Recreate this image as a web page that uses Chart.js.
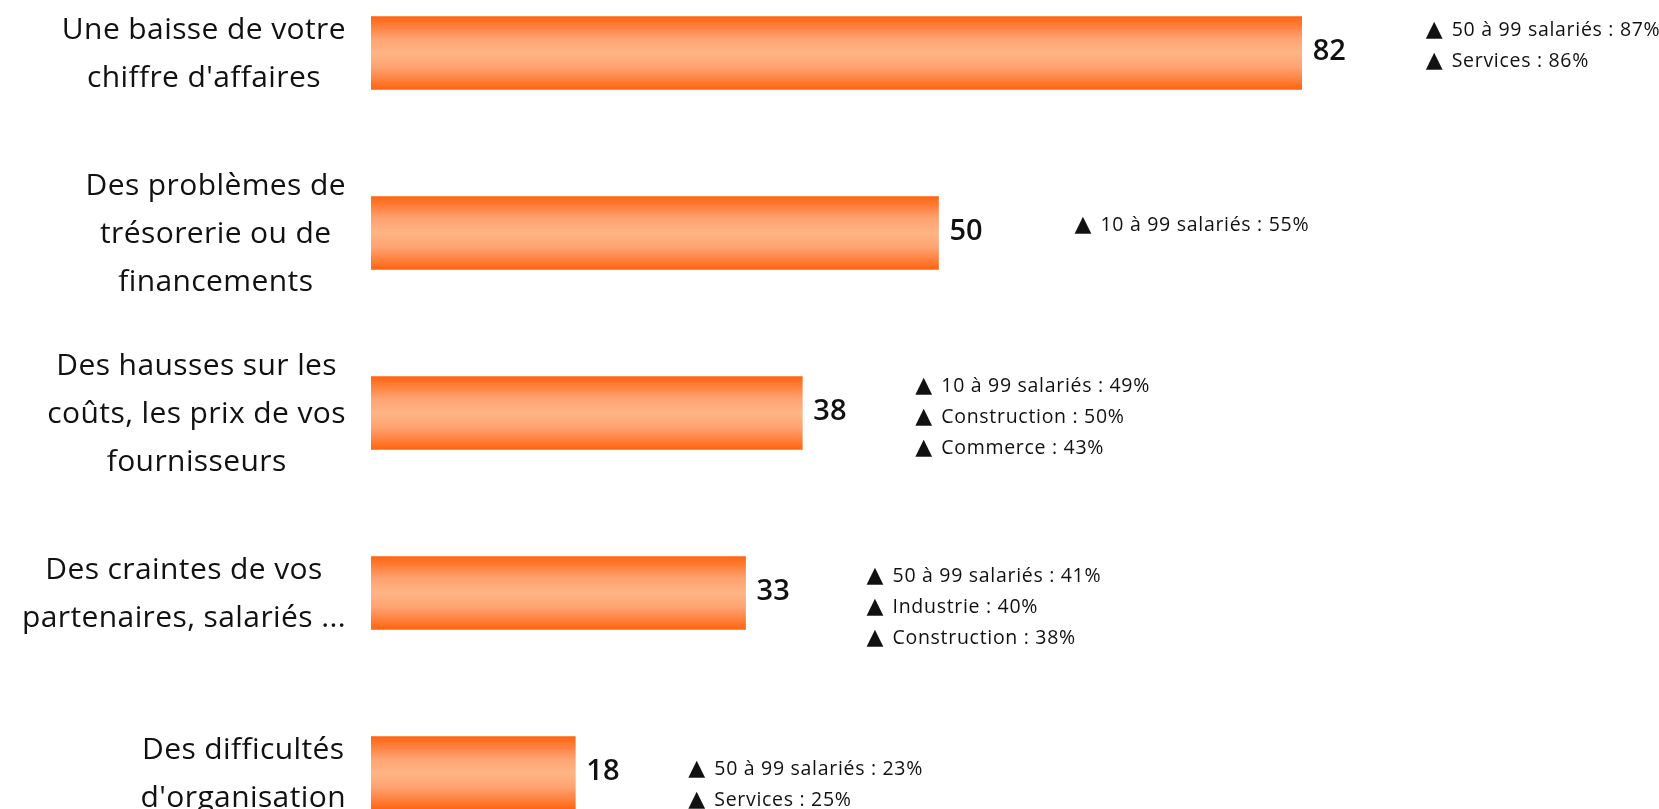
<!DOCTYPE html>
<html>
<head>
<meta charset="utf-8">
<script src="https://cdn.jsdelivr.net/npm/chart.js@4.4.1/dist/chart.umd.min.js"></script>
<style>
  html, body { margin: 0; padding: 0; background: #ffffff; overflow: hidden; width: 1659px; height: 809px; }
  #wrap { position: absolute; left: 0; top: -37px; width: 1659px; height: 900px; }
</style>
</head>
<body>
<div id="wrap"><canvas id="c"></canvas></div>
<script>
// ---- data ----
const categories = [
  ["Une baisse de votre", "chiffre d'affaires"],
  ["Des problèmes de", "trésorerie ou de", "financements"],
  ["Des hausses sur les", "coûts, les prix de vos", "fournisseurs"],
  ["Des craintes de vos", "partenaires, salariés ..."],
  ["Des difficultés", "d'organisation"]
];
const values = [82, 50, 38, 33, 18];
const highlights = [
  ["50 à 99 salariés : 87%", "Services : 86%"],
  ["10 à 99 salariés : 55%"],
  ["10 à 99 salariés : 49%", "Construction : 50%", "Commerce : 43%"],
  ["50 à 99 salariés : 41%", "Industrie : 40%", "Construction : 38%"],
  ["50 à 99 salariés : 23%", "Services : 25%"]
];

// ---- layout (not data) ----
const BAR_THICK = 73;
const noteDx = [124, 136, 113, 121, 113];   // gap from bar end to note block
const noteDy = [-23, -8, -27, -17, -4];     // first note line offset from bar centre
const NOTE_LINE = 31;
const LABEL_LINE = 48;

function barGradient(ctx, yc) {
  const g = ctx.createLinearGradient(0, yc - BAR_THICK / 2, 0, yc + BAR_THICK / 2);
  g.addColorStop(0, '#ff6410');
  g.addColorStop(0.3, '#ffa271');
  g.addColorStop(0.5, '#ffb585');
  g.addColorStop(0.7, '#ffa271');
  g.addColorStop(1, '#ff6410');
  return g;
}

const textPlugin = {
  id: 'texts',
  afterDatasetsDraw(chart) {
    const ctx = chart.ctx;
    const xs = chart.scales.x, ys = chart.scales.y;
    const area = chart.chartArea;
    ctx.save();
    ctx.fillStyle = '#111111';
    // category labels (left)
    ctx.font = '30px "Open Sans"';
    ctx.letterSpacing = '0.4px';
    ctx.textBaseline = 'middle';
    ctx.textAlign = 'center';
    categories.forEach((lines, i) => {
      const yc = ys.getPixelForValue(i);
      let maxW = 0;
      lines.forEach(l => { maxW = Math.max(maxW, ctx.measureText(l).width); });
      const cx = area.left - 25 - maxW / 2;
      lines.forEach((l, k) => {
        ctx.fillText(l, cx, yc + (k - (lines.length - 1) / 2) * LABEL_LINE + 1);
      });
    });
    // value labels
    ctx.letterSpacing = '0px';
    ctx.font = '600 29px "Open Sans"';
    ctx.textAlign = 'left';
    values.forEach((v, i) => {
      const yc = ys.getPixelForValue(i);
      ctx.fillText(String(v), xs.getPixelForValue(v) + 11, yc - 1);
    });
    // highlight notes
    highlights.forEach((lines, i) => {
      const yc = ys.getPixelForValue(i);
      const x0 = xs.getPixelForValue(values[i]) + noteDx[i];
      lines.forEach((l, k) => {
        const y = yc + noteDy[i] + k * NOTE_LINE;
        ctx.letterSpacing = '0px';
        ctx.font = '22px "DejaVu Sans"';
        ctx.fillText('\u25B2', x0, y);
        ctx.font = '19.5px "Open Sans"';
        ctx.letterSpacing = '0.7px';
        ctx.fillText(l, x0 + 26, y);
      });
    });
    ctx.restore();
  }
};

new Chart(document.getElementById('c'), {
  type: 'bar',
  data: {
    labels: categories,
    datasets: [{
      data: values,
      barThickness: BAR_THICK,
      borderWidth: 0,
      backgroundColor: (c) => {
        const chart = c.chart;
        const ys = chart.scales.y;
        if (!ys || c.dataIndex === undefined) return '#ff8a4a';
        const yc = ys.getPixelForValue(c.dataIndex);
        if (!isFinite(yc)) return '#ff8a4a';
        return barGradient(chart.ctx, yc);
      }
    }]
  },
  options: {
    indexAxis: 'y',
    responsive: true,
    maintainAspectRatio: false,
    animation: false,
    events: [],
    layout: { padding: { left: 371, right: 153, top: 0, bottom: 0 } },
    plugins: { legend: { display: false }, tooltip: { enabled: false } },
    scales: {
      x: { min: 0, max: 100, display: false, grid: { display: false } },
      y: { display: false, grid: { display: false }, offset: true }
    }
  },
  plugins: [textPlugin]
});
</script>
</body>
</html>
